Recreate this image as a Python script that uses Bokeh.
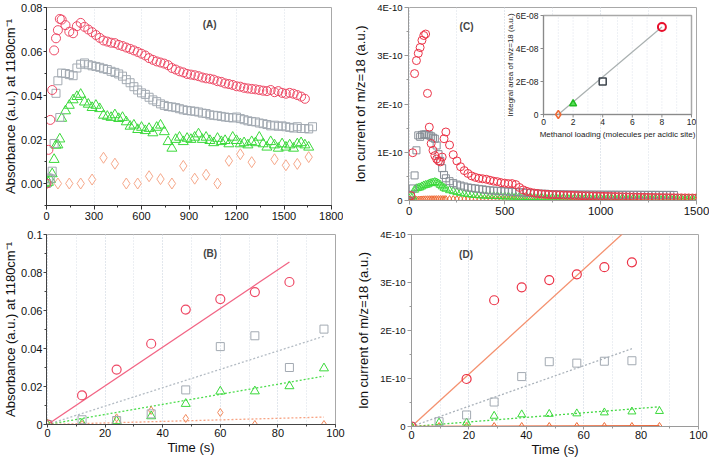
import math
from bokeh.plotting import figure
from bokeh.layouts import column, row
from bokeh.models import (Range1d, SingleIntervalTicker, CustomJSTickFormatter,
                          NumeralTickFormatter, Label)
from bokeh.embed import file_html
from bokeh.resources import INLINE
from bokeh.core.properties import value

FONT = "Liberation Sans"

# ------------------------------------------------------------------ data
# Panel A : absorbance at 1180 cm-1 vs time (s)
a_t_early = [0, 12, 24, 36, 48, 60, 72, 84, 96]
a_red_early = [0, 0.0153, 0.0289, 0.0425, 0.0605, 0.0660, 0.0697, 0.0748, 0.0745]
a_red_late = [0.0720, 0.0690, 0.0683, 0.0715, 0.0730, 0.0712,
              0.0700, 0.0688, 0.0675, 0.0662, 0.0650, 0.0645, 0.0640, 0.0638, 0.0630, 0.0625,
              0.0618, 0.0612, 0.0605, 0.0598, 0.0590,
              0.0582, 0.0570, 0.0562, 0.0555, 0.0550, 0.0545, 0.0538, 0.0525, 0.0518, 0.0510,
              0.0505, 0.0498, 0.0495, 0.0492, 0.0488,
              0.0482, 0.0478, 0.0476, 0.0472, 0.0465, 0.0462, 0.0455, 0.0452, 0.0448, 0.0442,
              0.0440, 0.0435, 0.0432, 0.0430, 0.0428,
              0.0425, 0.0422, 0.0420, 0.0425, 0.0415, 0.0420, 0.0412, 0.0408, 0.0412, 0.0408,
              0.0402, 0.0395, 0.0385]
a_gray_early = [0, 0.0025, 0.0021, 0.0056, 0.0182, 0.0410, 0.0467, 0.0300, 0.0502]
a_gray_late = [0.0500, 0.0495, 0.0490, 0.0525, 0.0542, 0.0548,
               0.0540, 0.0535, 0.0532, 0.0528, 0.0522, 0.0518, 0.0510, 0.0505, 0.0498, 0.0488,
               0.0472, 0.0458, 0.0440, 0.0425, 0.0412,
               0.0405, 0.0392, 0.0380, 0.0372, 0.0362, 0.0355, 0.0350, 0.0348, 0.0345, 0.0340,
               0.0335, 0.0332, 0.0330, 0.0328, 0.0325,
               0.0320, 0.0318, 0.0312, 0.0310, 0.0308, 0.0305, 0.0302, 0.0300, 0.0298, 0.0302,
               0.0295, 0.0290, 0.0285, 0.0282, 0.0280,
               0.0275, 0.0272, 0.0268, 0.0262, 0.0265, 0.0260, 0.0262, 0.0258, 0.0255, 0.0252,
               0.0258, 0.0250, 0.0250, 0.0248, 0.0258]
a_green_early = [0, 0.0005, 0.0018, 0.0044, 0.0109, 0.0174, 0.0175, 0.0202, 0.0296]
a_green_late = [0.0330, 0.0355, 0.0380, 0.0395, 0.0405, 0.0370,
                0.0360, 0.0345, 0.0355, 0.0340, 0.0310, 0.0305, 0.0300, 0.0312, 0.0295, 0.0300,
                0.0280, 0.0260, 0.0265, 0.0245, 0.0255,
                0.0240, 0.0250, 0.0230, 0.0255, 0.0265, 0.0235, 0.0190, 0.0160, 0.0200, 0.0210,
                0.0190, 0.0205, 0.0200, 0.0210, 0.0225,
                0.0200, 0.0210, 0.0195, 0.0185, 0.0205, 0.0190, 0.0195, 0.0180, 0.0210, 0.0195,
                0.0180, 0.0185, 0.0175, 0.0190, 0.0185,
                0.0210, 0.0180, 0.0165, 0.0190, 0.0175, 0.0160, 0.0180, 0.0165, 0.0175, 0.0160,
                0.0180, 0.0185, 0.0175, 0.0165]
a_orange_t = [0, 72, 144, 216, 288, 360, 432, 504, 576, 648, 720, 792, 864, 936, 1008,
              1080, 1152, 1224, 1296, 1440, 1512, 1584, 1656]
a_orange = [0, 0, 0, 0, 0.0018, 0.0117, 0.0090, 0, 0, 0.0033, 0.0020, 0, 0.0080, 0.0022,
            0.0040, 0, 0.0103, 0.0133, 0.0097, 0.0110, 0.0083, 0.0089, 0.0120]

# Panel B : initial region (s)
b_t = [0, 12, 24, 36, 48, 60, 72, 84, 96]
b_red = [0, 0.0153, 0.0289, 0.0425, 0.0605, 0.0660, 0.0697, 0.0750]
b_gray = [0, 0.0025, 0.0021, 0.0056, 0.0182, 0.0410, 0.0467, 0.0300, 0.0502]
b_green = [0, 0.0005, 0.0018, 0.0044, 0.0109, 0.0174, 0.0175, 0.0202, 0.0296]
b_orange_t = [0, 12, 24, 36, 48, 60, 72, 96]
b_orange = [0, 0, 0.0035, 0.0074, 0.0032, 0.0063, 0, 0]
b_fit_slope = [0.001018, 0.000484, 0.000265, 0.0000406]   # red, gray, green, orange
b_fit_end = [84, 96, 96, 96]

# Panel C : ion current m/z=18 (units of 1E-10) vs time (s)
c_t_early = [0, 9.6, 19.2, 28.8, 38.4, 48, 57.6, 67.2, 76.8, 86.4, 96, 105.6, 115.2,
             124.8, 134.4, 144, 153.6, 163.2, 172.8, 182.4, 192]
c_red_early = [0, 0.10, 0.99, 2.63, 2.90, 3.05, 3.17, 3.32, 3.42, 3.45, 2.22, 1.52, 1.18,
               1.04, 0.93, 0.86, 0.82, 0.80, 0.90, 1.28, 1.42]
c_red_late = [1.15, 0.95, 0.82, 0.70, 0.62, 0.56, 0.51, 0.48, 0.46, 0.45,
              0.44, 0.42, 0.40, 0.39, 0.37, 0.36, 0.35, 0.35, 0.33, 0.27,
              0.22, 0.19, 0.17, 0.155, 0.145, 0.135, 0.13, 0.125, 0.12, 0.118,
              0.115, 0.112, 0.11, 0.108, 0.105, 0.103, 0.10, 0.098, 0.096, 0.094,
              0.092, 0.09, 0.088, 0.086, 0.084, 0.082, 0.08, 0.078, 0.076, 0.074,
              0.072, 0.07, 0.068, 0.067, 0.066, 0.064, 0.063, 0.062, 0.06, 0.059,
              0.058, 0.057, 0.056, 0.055, 0.054, 0.053, 0.052, 0.05]
c_gray_early = [0, 0.12, 0.25, 0.52, 1.04, 1.35, 1.32, 1.36, 1.37, 1.37, 1.36, 1.35, 1.33,
                1.30, 1.28, 1.14, 0.96, 0.82, 0.67, 0.53, 0.46]
c_gray_late = [0.40, 0.36, 0.33, 0.31, 0.29, 0.27, 0.26, 0.25, 0.24, 0.23,
               0.22, 0.21, 0.205, 0.20, 0.195, 0.19, 0.185, 0.18, 0.175, 0.17,
               0.165, 0.16, 0.155, 0.15, 0.145, 0.14, 0.14, 0.135, 0.13, 0.13,
               0.128, 0.127, 0.126, 0.125, 0.125, 0.124, 0.123, 0.123, 0.122, 0.122,
               0.121, 0.121, 0.12, 0.12, 0.12, 0.12, 0.119, 0.119, 0.119, 0.118,
               0.118, 0.118, 0.118, 0.117, 0.117, 0.117, 0.117, 0.116, 0.116, 0.116,
               0.116, 0.115]
c_green_early = [0, 0.08, 0.08, 0.22, 0.25, 0.26, 0.27, 0.29, 0.31, 0.32, 0.33, 0.35, 0.36,
                 0.37, 0.38, 0.37, 0.35, 0.32, 0.29, 0.26, 0.24]
c_green_late = [0.21, 0.19, 0.17, 0.155, 0.14, 0.13, 0.12, 0.11, 0.105, 0.10,
                0.097, 0.094, 0.091, 0.088, 0.085, 0.082, 0.08, 0.078, 0.076, 0.074,
                0.072, 0.07, 0.068, 0.066, 0.064, 0.062, 0.06, 0.059, 0.058, 0.057,
                0.056, 0.055, 0.054, 0.053, 0.052, 0.051, 0.05, 0.049, 0.048, 0.047,
                0.046, 0.046, 0.045, 0.045, 0.044, 0.044, 0.043, 0.043, 0.042, 0.042,
                0.041, 0.041, 0.04, 0.04, 0.039, 0.039, 0.038, 0.038, 0.037, 0.037,
                0.036, 0.036, 0.035, 0.035, 0.034, 0.034, 0.033, 0.033]
c_orange_early = [0, 0.005, 0.01, 0.012, 0.015, 0.018, 0.02, 0.022, 0.024, 0.025, 0.026,
                  0.027, 0.028, 0.028, 0.029, 0.029, 0.03, 0.03, 0.03, 0.03, 0.03]
c_orange_late = [0.03, 0.03, 0.03, 0.03, 0.029, 0.029, 0.028, 0.028, 0.027, 0.027,
                 0.026, 0.026, 0.025, 0.025, 0.024, 0.024, 0.023, 0.023, 0.022, 0.021,
                 0.02, 0.02, 0.019, 0.019, 0.018, 0.018, 0.017, 0.017, 0.016, 0.016,
                 0.015, 0.015, 0.014, 0.014, 0.013, 0.013, 0.012, 0.012, 0.011, 0.011,
                 0.011, 0.01, 0.01, 0.01, 0.009, 0.009, 0.009, 0.009, 0.008, 0.008,
                 0.008, 0.008, 0.007, 0.007, 0.007, 0.007, 0.007, 0.006, 0.006, 0.006,
                 0.006, 0.006, 0.005, 0.005, 0.005, 0.005, 0.005, 0.005]

# Inset of C : integral area (units of 1E-08) vs methanol loading
ins_loading = [1, 2, 4, 8]
ins_area = [0.0, 0.65, 2.0, 5.3]
ins_xticks = [0, 2, 4, 6, 8, 10]
ins_yticks = [0, 2, 4, 6]
ins_ytick_labels = ["0", "2E-08", "4E-08", "6E-08"]

# Panel D : initial region, ion current (units of 1E-10)
d_t = [0, 9.6, 19.2, 28.8, 38.4, 48, 57.6, 67.2, 76.8, 86.4]
d_red_t = [0, 19.2, 28.8, 38.4, 48, 57.6, 67.2, 76.8]
d_red = [0, 0.99, 2.63, 2.90, 3.05, 3.17, 3.32, 3.42]
d_gray = [0, 0.10, 0.24, 0.51, 1.04, 1.35, 1.32, 1.36, 1.37]
d_green = [0, 0.08, 0.08, 0.22, 0.25, 0.26, 0.27, 0.29, 0.31, 0.32]
d_orange = [0, 0, 0, 0, 0, 0, 0, 0, 0, 0]
d_fit_slope = [0.0546, 0.0211, 0.00475, 0.0002]   # red, gray, green, orange
d_fit_end = [100, 76.8, 86.4, 86.4]

# ------------------------------------------------------------------ helpers
a_red_t = a_t_early + [120 + 24 * i for i in range(len(a_red_late))]
a_gray_t = a_t_early + [120 + 24 * i for i in range(len(a_gray_late))]
a_green_t = a_t_early + [120 + 24 * i for i in range(len(a_green_late))]
c_late_t = [211.2 + 19.2 * i for i in range(len(c_red_late))]

GRID = "#d9dee6"
GRID_DASH = "1 2"


def mk(fw, fh, left, right, top, bottom, xr, yr):
    p = figure(frame_width=fw, frame_height=fh, x_range=Range1d(*xr), y_range=Range1d(*yr),
               toolbar_location=None, output_backend="svg", background_fill_color="white",
               border_fill_color="white")
    p.min_border_left = left
    p.min_border_right = right
    p.min_border_top = top
    p.min_border_bottom = bottom
    p.outline_line_color = "#a8a8a8"
    p.ygrid.grid_line_color = None
    p.xgrid.grid_line_color = GRID
    p.xgrid.grid_line_dash = GRID_DASH
    for ax in (p.xaxis[0], p.yaxis[0]):
        ax.major_label_text_font = FONT
        ax.axis_label_text_font = FONT
        ax.axis_label_text_font_style = "normal"
        ax.major_label_text_color = "#111111"
        ax.axis_label_text_color = "#111111"
        ax.major_tick_in = 0
        ax.major_tick_out = 4
        ax.minor_tick_in = 0
        ax.minor_tick_out = 2
        ax.major_label_standoff = 2
    return p


def sc(p, x, y, marker, color, size, lw=1.0, fill=None, **kw):
    p.scatter(x, y, marker=marker, size=size, fill_color=fill, line_color=color,
              line_width=lw, **kw)


RED_AB = "#ee4a66"
GRAY_AB = "#a3aab2"
GREEN = "#3bd93b"
ORANGE_A = "#f6a88a"
ORANGE_B = "#f2895c"
RED_CD = "#ec3347"
GRAY_C = "#878e96"
ORANGE_CD = "#ef6a35"

# ------------------------------------------------------------------ panel A
pA = mk(285, 198, 46, 12, 7, 19, (0, 1800), (-0.01, 0.08))
pA.xaxis.ticker = SingleIntervalTicker(interval=300, num_minor_ticks=2)
pA.yaxis.ticker = SingleIntervalTicker(interval=0.02, num_minor_ticks=2)
pA.yaxis.formatter = NumeralTickFormatter(format="0.00")
pA.yaxis.axis_label = "Absorbance (a.u.) at 1180cm\u207b\u00b9"
pA.yaxis.axis_label_text_font_size = "13px"
pA.yaxis.axis_label_standoff = 0
pA.yaxis.major_label_standoff = 1
pA.yaxis.major_tick_out = 3
pA.xaxis.major_label_text_font_size = "11px"
pA.yaxis.major_label_text_font_size = "11px"
for ax in (pA.xaxis[0], pA.yaxis[0]):
    ax.axis_line_color = "#333333"
    ax.major_tick_line_color = "#333333"
    ax.minor_tick_line_color = "#333333"
sc(pA, a_orange_t, a_orange, "diamond", ORANGE_A, 11)
sc(pA, a_green_t, a_green_early + a_green_late, "triangle", GREEN, 10)
sc(pA, a_gray_t, a_gray_early + a_gray_late, "square", GRAY_AB, 8)
sc(pA, a_red_t, a_red_early + a_red_late, "circle", RED_AB, 9)
pA.add_layout(Label(x=1030, y=0.0722, text="(A)", text_font=FONT, text_font_size="10px",
                    text_font_style="bold", text_align="center", text_baseline="middle"))

# ------------------------------------------------------------------ panel B
pB = mk(289, 190, 46, 12, 10, 34, (-0.35, 100), (0, 0.1))
pB.xaxis.ticker = SingleIntervalTicker(interval=20, num_minor_ticks=2)
pB.yaxis.ticker = SingleIntervalTicker(interval=0.02, num_minor_ticks=2)
pB.yaxis.formatter = CustomJSTickFormatter(
    code="return tick == 0 ? '0' : (Math.round(tick * 100) / 100).toString();")
pB.xgrid.minor_grid_line_color = GRID
pB.xgrid.minor_grid_line_dash = GRID_DASH
pB.yaxis.axis_label = "Absorbance (a.u.) at 1180cm\u207b\u00b9"
pB.yaxis.axis_label_text_font_size = "13px"
pB.yaxis.axis_label_standoff = 0
pB.yaxis.major_label_standoff = 1
pB.yaxis.major_tick_out = 3
pB.xaxis.axis_label = "Time (s)"
pB.xaxis.axis_label_text_font_size = "13px"
pB.xaxis.axis_label_standoff = 0
pB.xaxis.major_tick_out = 3
pB.xaxis.major_label_standoff = 1
pB.xaxis.major_label_text_font_size = "11px"
pB.yaxis.major_label_text_font_size = "11px"
for ax in (pB.xaxis[0], pB.yaxis[0]):
    ax.axis_line_color = "#444444"
    ax.major_tick_line_color = "#444444"
    ax.minor_tick_line_color = "#444444"
fit_colors_b = ["#f26585", "#b4bcc4", "#4ddd4d", "#f7a383"]
fit_dash_b = ["solid", "2 2", "2 2", "2 2"]
for s, e, c, d in zip(b_fit_slope, b_fit_end, fit_colors_b, fit_dash_b):
    pB.line([0, e], [0, s * e], line_color=c, line_width=1.3, line_dash=d)
sc(pB, b_orange_t, b_orange, "diamond", ORANGE_B, 8)
sc(pB, b_t, b_green, "triangle", GREEN, 9)
sc(pB, b_t, b_gray, "square", GRAY_AB, 8)
sc(pB, b_t[:len(b_red)], b_red, "circle", RED_AB, 9, lw=1.2)
pB.add_layout(Label(x=56.5, y=0.09, text="(B)", text_font=FONT, text_font_size="10px",
                    text_font_style="bold", text_align="center", text_baseline="middle"))

# ------------------------------------------------------------------ panel C
C_LEFT, C_TOP, C_W, C_H = 65, 6, 288, 193
pC = mk(C_W, C_H, C_LEFT, 13, C_TOP, 25, (-3, 1500), (0, 4))
pC.xaxis.ticker = SingleIntervalTicker(interval=500, num_minor_ticks=2)
pC.yaxis.ticker = SingleIntervalTicker(interval=1, num_minor_ticks=2)
pC.yaxis.formatter = CustomJSTickFormatter(
    code="return tick == 0 ? '0' : Math.round(tick) + 'E-10';")
pC.xgrid.minor_grid_line_color = GRID
pC.xgrid.minor_grid_line_dash = GRID_DASH
pC.yaxis.axis_label = "Ion current of m/z=18 (a.u.)"
pC.yaxis.axis_label_text_font_size = "13px"
pC.yaxis.axis_label_standoff = 6
pC.xaxis.major_label_text_font_size = "11.5px"
pC.yaxis.major_label_text_font_size = "9.5px"
for ax in (pC.xaxis[0], pC.yaxis[0]):
    ax.axis_line_color = "#9a9a9a"
    ax.major_tick_line_color = "#9a9a9a"
    ax.minor_tick_line_color = "#9a9a9a"
sc(pC, c_t_early + c_late_t, c_orange_early + c_orange_late, "diamond", ORANGE_CD, 7)
sc(pC, c_t_early + c_late_t, c_green_early + c_green_late, "triangle", GREEN, 8)
sc(pC, c_t_early + c_late_t[:len(c_gray_late)], c_gray_early + c_gray_late, "square", GRAY_C, 7)
sc(pC, c_t_early + c_late_t, c_red_early + c_red_late, "circle", RED_CD, 8)
pC.add_layout(Label(x=300, y=3.6, text="(C)", text_font=FONT, text_font_size="10px",
                    text_font_style="bold", text_align="center", text_baseline="middle"))

# inset (own ranges mapped to a sub-rectangle of panel C's frame)
IN_L, IN_R, IN_T, IN_B = 135, 283, 8, 107      # px inside C's frame
fx0, fx1 = IN_L / C_W, IN_R / C_W
span_x = 10 / (fx1 - fx0)
ix0 = -fx0 * span_x
fy0, fy1 = (C_H - IN_B) / C_H, (C_H - IN_T) / C_H
span_y = 6 / (fy1 - fy0)
iy0 = -fy0 * span_y
pC.extra_x_ranges = {"ix": Range1d(ix0, ix0 + span_x)}
pC.extra_y_ranges = {"iy": Range1d(iy0, iy0 + span_y)}
IK = dict(x_range_name="ix", y_range_name="iy")
pC.quad(left=[0], right=[10], bottom=[0], top=[6], fill_color="white",
        line_color="#a8a8a8", line_width=1.5, **IK)
grid_x = [1, 2, 3, 4, 5, 6, 7, 8, 9]
pC.segment(x0=grid_x, y0=[0] * 9, x1=grid_x, y1=[6] * 9, line_color="#dde2ea",
           line_dash=GRID_DASH, line_width=1, **IK)
pC.segment(x0=[0], y0=[0], x1=[10], y1=[0], line_color="#8a8a8a", line_width=1, **IK)
pC.segment(x0=[0], y0=[0], x1=[0], y1=[6], line_color="#8a8a8a", line_width=1, **IK)
pC.segment(x0=ins_xticks, y0=[0] * 6, x1=ins_xticks, y1=[-0.18] * 6,
           line_color="#8a8a8a", **IK)
pC.segment(x0=[0] * 4, y0=ins_yticks, x1=[-0.2] * 4, y1=ins_yticks,
           line_color="#8a8a8a", **IK)
pC.text(x=ins_xticks, y=[0] * 6, text=[str(v) for v in ins_xticks], y_offset=4,
        text_align="center", text_baseline="top", text_font=value(FONT),
        text_font_size=value("8.5px"), text_color="#222222", **IK)
pC.text(x=[0] * 4, y=ins_yticks, text=ins_ytick_labels, x_offset=-5,
        text_align="right", text_baseline="middle", text_font=value(FONT),
        text_font_size=value("8.5px"), text_color="#222222", **IK)
pC.text(x=[5], y=[0], text=["Methanol loading (molecules per acidic site)"], y_offset=15,
        text_align="center", text_baseline="top", text_font=value(FONT),
        text_font_size=value("8px"), text_color="#222222", **IK)
pC.text(x=[0], y=[3], text=["Integral area of m/z=18 (a.u.)"], x_offset=-33,
        angle=math.pi / 2, text_align="center", text_baseline="middle",
        text_font=value(FONT), text_font_size=value("8px"), text_color="#222222", **IK)
pC.line([ins_loading[0], ins_loading[-1]], [ins_area[0], ins_area[-1]],
        line_color="#a9b0b0", line_width=1.2, **IK)
sc(pC, [ins_loading[0]], [ins_area[0]], "diamond", ORANGE_CD, 8, lw=1.5, **IK)
sc(pC, [ins_loading[1]], [ins_area[1]], "triangle", "#22bb22", 7, lw=1.5,
   fill="#55dd55", **IK)
sc(pC, [ins_loading[2]], [ins_area[2]], "square", "#3c444c", 7, lw=1.5, **IK)
sc(pC, [ins_loading[3]], [ins_area[3]], "circle", "#e8102c", 8, lw=2, **IK)

# ------------------------------------------------------------------ panel D
pD = mk(287, 192, 64, 11, 9, 33, (0, 100), (0, 4))
pD.xaxis.ticker = SingleIntervalTicker(interval=20, num_minor_ticks=2)
pD.yaxis.ticker = SingleIntervalTicker(interval=1, num_minor_ticks=2)
pD.yaxis.formatter = CustomJSTickFormatter(
    code="return tick == 0 ? '0' : Math.round(tick) + 'E-10';")
pD.xgrid.minor_grid_line_color = GRID
pD.xgrid.minor_grid_line_dash = GRID_DASH
pD.yaxis.axis_label = "Ion current of m/z=18 (a.u.)"
pD.yaxis.axis_label_text_font_size = "13px"
pD.yaxis.axis_label_standoff = 6
pD.xaxis.axis_label = "Time (s)"
pD.xaxis.axis_label_text_font_size = "13px"
pD.xaxis.axis_label_standoff = 0
pD.xaxis.major_tick_out = 3
pD.xaxis.major_label_standoff = 1
pD.xaxis.major_label_text_font_size = "11px"
pD.yaxis.major_label_text_font_size = "9.5px"
for ax in (pD.xaxis[0], pD.yaxis[0]):
    ax.axis_line_color = "#9a9a9a"
    ax.major_tick_line_color = "#9a9a9a"
    ax.minor_tick_line_color = "#9a9a9a"
fit_colors_d = ["#f4916f", "#aab2ba", "#44d944", "#e8683c"]
fit_dash_d = ["solid", "2 2", "2 2", "solid"]
for s, e, c, d in zip(d_fit_slope, d_fit_end, fit_colors_d, fit_dash_d):
    pD.line([0, e], [0, s * e], line_color=c, line_width=1.3, line_dash=d)
sc(pD, d_t, d_orange, "diamond", ORANGE_CD, 8)
sc(pD, d_t, d_green, "triangle", GREEN, 8)
sc(pD, d_t[:len(d_gray)], d_gray, "square", GRAY_AB, 8)
sc(pD, d_red_t, d_red, "circle", RED_CD, 9, lw=1.2)
pD.add_layout(Label(x=19, y=3.58, text="(D)", text_font=FONT, text_font_size="10px",
                    text_font_style="bold", text_align="center", text_baseline="middle"))

layout = column(row(pA, pC), row(pB, pD))
open("out.html", "w").write(file_html(layout, INLINE))
